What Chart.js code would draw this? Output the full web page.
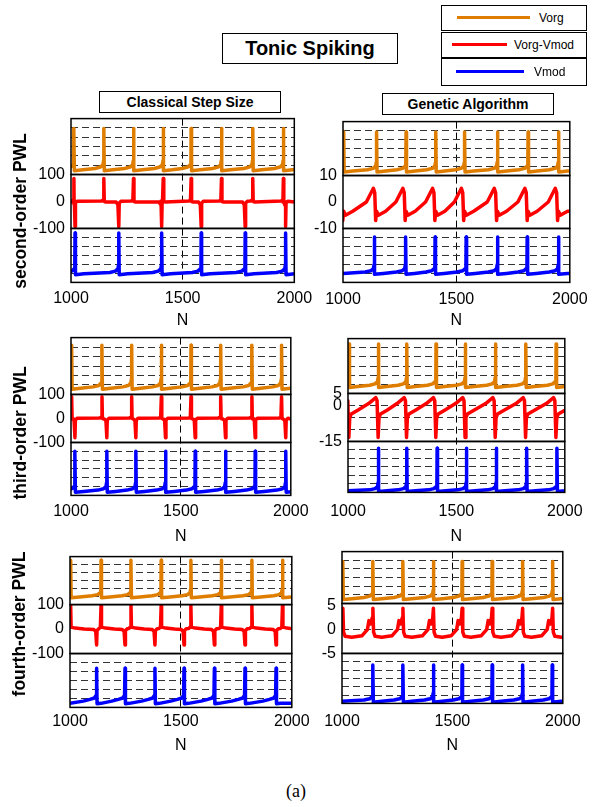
<!DOCTYPE html>
<html><head><meta charset="utf-8">
<script src="https://cdn.jsdelivr.net/npm/chart.js@4.4.1/dist/chart.umd.min.js"></script>
<style>
html,body{margin:0;padding:0;background:#fff;}
body{width:592px;height:807px;position:relative;overflow:hidden;font-family:"Liberation Sans",Arial,sans-serif;color:#000;}
.box{position:absolute;border:1.3px solid #000;box-sizing:border-box;background:#fff;display:flex;align-items:center;justify-content:center;white-space:nowrap;}
canvas{position:absolute;}
.rowlab{position:absolute;font-weight:bold;font-size:17.5px;white-space:nowrap;transform:translate(-50%,-50%) rotate(-90deg);}
.leg{position:absolute;border:1.5px solid #000;box-sizing:border-box;background:#fff;}
.legline{position:absolute;height:3px;}
.legtxt{position:absolute;font-size:12px;white-space:nowrap;transform:translateY(-50%);}
</style></head><body>
<script>
// ---------------- data ----------------
const xTickValues = [1000, 1500, 2000];
const seriesNames = ['Vorg', 'Vorg-Vmod', 'Vmod'];
const seriesColors = ['#DE7D00', '#FF0000', '#0000FF'];
const rowLabels = ['second-order PWL', 'third-order PWL', 'fourth-order PWL'];
const columnTitles = ['Classical Step Size', 'Genetic Algorithm'];
const figureTitle = 'Tonic Spiking';
const caption = '(a)';

// membrane voltage strips (Vorg / Vmod): range and dashed grid values
const voltRange = [-80, 40];
const voltGrid = [-60, -40, -20, 0, 20];

// spike instants N
const css2VorgSpikes = [1013, 1147, 1280, 1413, 1538, 1674, 1814, 1951];
const css2VmodSpikes = [1018, 1214, 1406, 1583, 1780, 1961];
const ga2VorgSpikes  = [1003, 1148, 1278, 1409, 1536, 1681, 1816, 1950];
const ga2VmodSpikes  = [1138, 1276, 1406, 1543, 1681, 1812, 1950];
const css3VorgSpikes = [1003, 1141, 1276, 1411, 1546, 1681, 1823, 1958];
const css3VmodSpikes = [1018, 1163, 1295, 1430, 1565, 1703, 1838, 1977];
const ga3VorgSpikes  = [1005, 1140, 1271, 1406, 1541, 1680, 1820, 1960];
const ga3VmodSpikes  = [1140, 1271, 1411, 1546, 1684, 1824, 1964];
const css4VorgSpikes = [1003, 1140, 1275, 1411, 1545, 1682, 1820, 1958];
const css4VmodSpikes = [1120, 1248, 1383, 1514, 1651, 1789, 1929];
const ga4VorgSpikes  = [1004, 1140, 1276, 1414, 1544, 1680, 1818, 1954];
const ga4VmodSpikes  = [1140, 1276, 1414, 1544, 1680, 1818, 1952];

// spike waveforms as [offset in N, value]
const css2VorgShape = [[-40,-67],[-15,-64],[-4,-59],[-1,-50],[0,19],[2,-72],[40,-70]];
const css2VmodShape = [[-40,-58],[-15,-55],[-4,-50],[-1,-41],[0,30],[2,-63],[40,-61]];
const ga2VorgShape  = [[-40,-67],[-15,-64],[-4,-59],[-1,-50],[0,17],[2,-72],[40,-70]];
const ga2VmodShape  = [[-40,-57],[-15,-54],[-4,-49],[-1,-40],[0,21],[2,-62],[40,-60]];
const css3VorgShape = [[-40,-64],[-15,-61],[-4,-56],[-1,-47],[0,24],[2,-69],[40,-67]];
const css3VmodShape = [[-40,-68],[-15,-65],[-4,-60],[-1,-51],[0,20],[2,-73],[40,-71]];
const ga3VorgShape  = [[-40,-62],[-15,-59],[-4,-54],[-1,-45],[0,28],[2,-67],[40,-65]];
const ga3VmodShape  = [[-40,-74],[-15,-71],[-4,-66],[-1,-57],[0,24],[2,-78],[40,-76]];
const css4VorgShape = [[-40,-58],[-15,-55],[-4,-50],[-1,-41],[0,31],[2,-63],[40,-61]];
const css4VmodShape = [[-60,-66],[-30,-62],[-10,-59],[-2,-53],[0,7],[2,-72],[20,-71]];
const ga4VorgShape  = [[-40,-66],[-15,-63],[-4,-58],[-1,-49],[0,17],[2,-71],[40,-69]];
const ga4VmodShape  = [[-40,-72],[-15,-69],[-4,-64],[-1,-55],[0,12],[2,-77],[40,-75]];

// error (Vorg-Vmod) waveforms
const css2RedUpShape   = [[-10,2],[-3,6],[0,85],[2,0],[10,-2]];
const css2RedDownShape = [[-12,-2],[-4,-12],[0,-93],[2,-6],[10,1]];
const css3RedUpShape   = [[-10,2],[-3,6],[0,90],[2,0],[10,-2]];
const css3RedDownShape = [[-12,-2],[-4,-10],[0,-80],[2,-6],[10,1]];
const css4RedUpShape   = [[-10,2],[-3,8],[0,96],[2,8],[20,4],[60,0]];
const css4RedDownShape = [[-12,-2],[-4,-10],[0,-65],[2,-6],[10,1]];
const ga2RedShape = [[-45,0],[-14,5.2],[-8,3.5],[-4,-7],[0,-3.5],[8,-5],[40,-3.5]];
const ga3RedShape = [[-45,0.8],[-12,3.3],[-6,2],[-1,-13.3],[3,-5],[10,-3.6],[40,-2]];
const ga4RedShape = [[-50,-1.3],[-25,0],[-18,1.9],[-10,1.2],[-3,2.5],[0,4.5],[3,-0.5],[10,-1.4],[40,-1.6]];

// error-strip axes
const cssRedRange = [-100, 100], cssRedTicks = [-100, 0, 100];
const ga2RedRange = [-10, 10],   ga2RedTicks = [-10, 0, 10];
const ga3RedRange = [-15, 5],    ga3RedTicks = [-15, -10, -5, 0, 5], ga3RedLabels = [-15, 0, 5], ga3RedGrid = [-10, -5, 0];
const ga4RedRange = [-5, 5.5],   ga4RedTicks = [-5, 0, 5], ga4RedGrid = [0];

// ---------------- layout (pixel geometry of each panel) ----------------
const panelBoxes = [
  {L:71, R:297, T:115, B:282, h:[57,55,55], tickY:298.5, nY:320},
  {L:343,R:573, T:118, B:282, h:[55,54,55], tickY:299,   nY:320},
  {L:71, R:293, T:334, B:495, h:[58,49,54], tickY:511,   nY:536},
  {L:348,R:570, T:335, B:492, h:[56,49,52], tickY:511,   nY:536},
  {L:70, R:292, T:553, B:707, h:[49,50,55], tickY:721,   nY:745},
  {L:342,R:567, T:548, B:703, h:[53,51,51], tickY:721,   nY:745}
];

const panels = [
  {vorg:[[css2VorgSpikes,css2VorgShape]], vmod:[[css2VmodSpikes,css2VmodShape]],
   red:[[css2VorgSpikes,css2RedUpShape],[css2VmodSpikes,css2RedDownShape]],
   rRange:cssRedRange, rTicks:cssRedTicks, rLabels:cssRedTicks, rGrid:[]},
  {vorg:[[ga2VorgSpikes,ga2VorgShape]], vmod:[[ga2VmodSpikes,ga2VmodShape]],
   red:[[ga2VorgSpikes,ga2RedShape]],
   rRange:ga2RedRange, rTicks:ga2RedTicks, rLabels:ga2RedTicks, rGrid:[]},
  {vorg:[[css3VorgSpikes,css3VorgShape]], vmod:[[css3VmodSpikes,css3VmodShape]],
   red:[[css3VorgSpikes,css3RedUpShape],[css3VmodSpikes,css3RedDownShape]],
   rRange:cssRedRange, rTicks:cssRedTicks, rLabels:cssRedTicks, rGrid:[]},
  {vorg:[[ga3VorgSpikes,ga3VorgShape]], vmod:[[ga3VmodSpikes,ga3VmodShape]],
   red:[[ga3VorgSpikes,ga3RedShape]],
   rRange:ga3RedRange, rTicks:ga3RedTicks, rLabels:ga3RedLabels, rGrid:ga3RedGrid},
  {vorg:[[css4VorgSpikes,css4VorgShape]], vmod:[[css4VmodSpikes,css4VmodShape]],
   red:[[css4VorgSpikes,css4RedUpShape],[css4VmodSpikes,css4RedDownShape]],
   rRange:cssRedRange, rTicks:cssRedTicks, rLabels:cssRedTicks, rGrid:[]},
  {vorg:[[ga4VorgSpikes,ga4VorgShape]], vmod:[[ga4VmodSpikes,ga4VmodShape]],
   red:[[ga4VorgSpikes,ga4RedShape]],
   rRange:ga4RedRange, rTicks:ga4RedTicks, rLabels:ga4RedTicks, rGrid:ga4RedGrid}
];

// place read waveforms at each read spike instant
function traceFrom(list) {
  let pts = [];
  list.forEach(([events, shape]) => events.forEach(t => shape.forEach(([dt, v]) => pts.push({x: t + dt, y: v}))));
  pts.sort((a, b) => a.x - b.x);
  const firstShape = list[0][1];
  const rest = firstShape[firstShape.length - 1][1];
  if (pts[0].x > xTickValues[0]) pts.unshift({x: xTickValues[0], y: rest});
  if (pts[pts.length - 1].x < xTickValues[2]) pts.push({x: xTickValues[2], y: rest});
  return pts;
}

const FAM = '"Liberation Sans", Arial, sans-serif';
Chart.defaults.font.family = FAM;
Chart.defaults.color = '#000';

const stripBoxes = {
  id: 'stripBoxes',
  afterDatasetsDraw(chart) {
    const {ctx, chartArea} = chart;
    ctx.save();
    ctx.strokeStyle = '#000';
    ctx.lineWidth = 1.5;
    ['yO', 'yR', 'yB'].forEach(id => {
      const s = chart.scales[id];
      ctx.strokeRect(chartArea.left, s.top, chartArea.right - chartArea.left, s.bottom - s.top);
    });
    ctx.restore();
  }
};

const GRIDCOL = '#333333';
const gridFor = set => ctx => (ctx.tick && set.includes(ctx.tick.value)) ? GRIDCOL : 'rgba(0,0,0,0)';
const AXW = 45, PT = 12, PR = 22;

panels.forEach((p, i) => {
  const g = panelBoxes[i];
  const XH = g.nY + 9.6 - g.B;
  const w = g.R - g.L + AXW + PR;
  const h = Math.round(g.B - g.T + PT + XH);
  const cv = document.createElement('canvas');
  cv.width = w; cv.height = h;
  cv.style.left = (g.L - AXW) + 'px';
  cv.style.top = (g.T - PT) + 'px';
  cv.style.width = w + 'px';
  cv.style.height = h + 'px';
  document.body.appendChild(cv);

  const voltAxis = (weight, sw) => ({
    type: 'linear', position: 'left', stack: 'p', stackWeight: sw, weight: weight,
    min: voltRange[0], max: voltRange[1],
    afterBuildTicks: s => { s.ticks = voltGrid.map(v => ({value: v})); },
    afterFit: s => { s.width = AXW; },
    ticks: {display: false},
    grid: {drawTicks: false, color: GRIDCOL, lineWidth: 1},
    border: {display: false, dash: [7, 4]}
  });

  new Chart(cv, {
    type: 'line',
    data: {datasets: [
      {label: seriesNames[0], data: traceFrom(p.vorg), yAxisID: 'yO', borderColor: seriesColors[0]},
      {label: seriesNames[1], data: traceFrom(p.red),  yAxisID: 'yR', borderColor: seriesColors[1]},
      {label: seriesNames[2], data: traceFrom(p.vmod), yAxisID: 'yB', borderColor: seriesColors[2]}
    ]},
    options: {
      responsive: false, animation: false, devicePixelRatio: 1,
      parsing: false, normalized: true,
      layout: {padding: {top: PT, right: PR, left: 0, bottom: 0}},
      elements: {point: {radius: 0}, line: {borderWidth: 3.5, tension: 0, fill: false, borderJoinStyle: 'round', borderCapStyle: 'round'}},
      plugins: {legend: {display: false}, tooltip: {enabled: false}},
      events: [],
      scales: {
        x: {
          type: 'linear', min: xTickValues[0], max: xTickValues[2],
          afterBuildTicks: s => { s.ticks = xTickValues.map(v => ({value: v})); },
          afterFit: s => { s.height = XH; },
          ticks: {autoSkip: false, maxRotation: 0, padding: g.tickY - g.B - 9.6, font: {size: 16}, color: '#000', callback: v => String(v)},
          grid: {drawTicks: false, lineWidth: 1, color: ctx => (ctx.tick && ctx.tick.value === 1500) ? '#000' : 'rgba(0,0,0,0)'},
          border: {display: false, dash: [7, 4]},
          title: {display: true, text: 'N', font: {size: 16}, color: '#000', padding: 0}
        },
        yB: voltAxis(1, g.h[2]),
        yR: {
          type: 'linear', position: 'left', stack: 'p', stackWeight: g.h[1], weight: 2,
          min: p.rRange[0], max: p.rRange[1],
          afterBuildTicks: s => { s.ticks = p.rTicks.map(v => ({value: v})); },
          afterFit: s => { s.width = AXW; },
          ticks: {autoSkip: false, padding: 6, font: {size: 16}, color: '#000',
                  callback: v => p.rLabels.includes(v) ? String(v) : ''},
          grid: {drawTicks: false, lineWidth: 1, color: gridFor(p.rGrid)},
          border: {display: false, dash: [7, 4]}
        },
        yO: voltAxis(3, g.h[0])
      }
    },
    plugins: [stripBoxes]
  });
});

// ---------------- annotations ----------------
function addDiv(cls, css, html) {
  const d = document.createElement('div');
  d.className = cls;
  Object.assign(d.style, css);
  d.textContent = html;
  document.body.appendChild(d);
  return d;
}
addDiv('box', {left:'222px', top:'33px', width:'176px', height:'31px', fontWeight:'bold', fontSize:'20px'}, figureTitle);
addDiv('box', {left:'99px', top:'91px', width:'182px', height:'22px', fontWeight:'bold', fontSize:'14px'}, columnTitles[0]);
addDiv('box', {left:'382px', top:'93px', width:'172px', height:'22px', fontWeight:'bold', fontSize:'14px'}, columnTitles[1]);

const rowLabelPos = [[20, 210.5], [20, 433], [19, 624]];
rowLabels.forEach((t, i) => addDiv('rowlab', {left: rowLabelPos[i][0] + 'px', top: rowLabelPos[i][1] + 'px'}, t));

const legendRows = [
  {top:5,  h:26, x1:456, x2:529, tx:538},
  {top:32, h:26, x1:451, x2:506, tx:513},
  {top:58, h:28, x1:455, x2:523, tx:533}
];
legendRows.forEach((r, i) => {
  const box = addDiv('leg', {left:'441px', top: r.top + 'px', width:'146px', height: r.h + 'px'}, '');
  const cy = r.h / 2 - 1.5;
  const ln = document.createElement('div');
  ln.className = 'legline';
  Object.assign(ln.style, {left: (r.x1 - 441) + 'px', width: (r.x2 - r.x1) + 'px', top: (cy - 1.5) + 'px', background: seriesColors[i]});
  box.appendChild(ln);
  const tx = document.createElement('div');
  tx.className = 'legtxt';
  Object.assign(tx.style, {left: (r.tx - 441) + 'px', top: cy + 'px'});
  tx.textContent = seriesNames[i];
  box.appendChild(tx);
});

addDiv('', {position:'absolute', left:'296px', top:'791px', transform:'translate(-50%,-50%)', fontFamily:'"Liberation Serif","Times New Roman",serif', fontSize:'18px'}, caption);
</script>
</body></html>
